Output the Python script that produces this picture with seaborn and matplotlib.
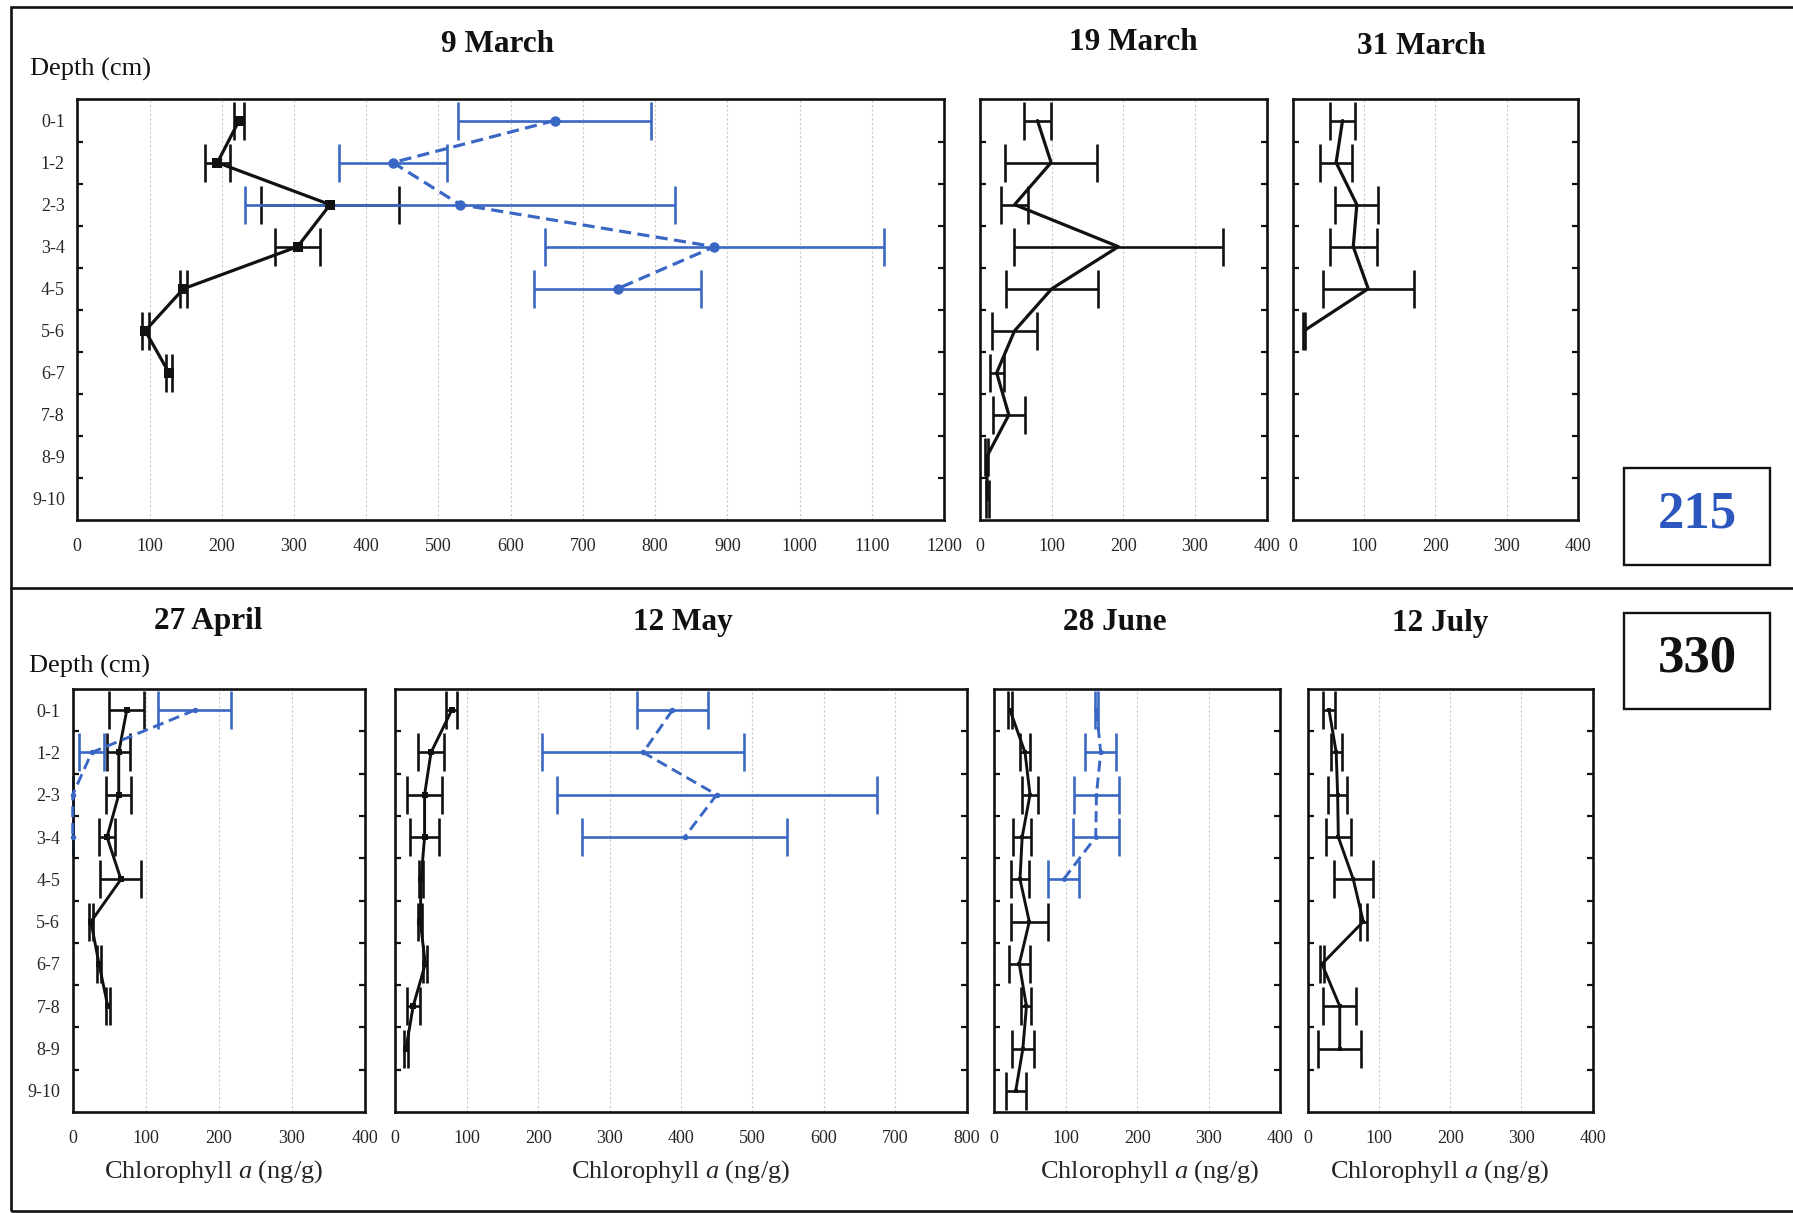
import numpy as np
import pandas as pd
import matplotlib
matplotlib.use("Agg")
import matplotlib.pyplot as plt
import seaborn as sns
from matplotlib.patches import Rectangle
from matplotlib.lines import Line2D
from matplotlib.ticker import FixedLocator

# ---------------- data ----------------
depth_labels = ["0-1", "1-2", "2-3", "3-4", "4-5", "5-6", "6-7", "7-8", "8-9", "9-10"]

mar09_black = [224, 194, 350, 305, 147, 94, 127]
mar09_black_err = [7, 17, 96, 31, 5, 5, 4]
mar09_blue = [661, 437, 530, 882, 748]
mar09_blue_err = [134, 75, 298, 235, 116]

mar19_black = [80, 99, 48, 193, 100, 48, 23, 40, 9, 10]
mar19_black_err = [19, 64, 19, 146, 64, 31, 10, 22, 2, 2]

mar31_black = [70, 61, 90, 85, 106, 16]
mar31_black_err = [18, 22, 30, 33, 64, 1]

apr27_black = [74, 63, 63, 47, 66, 25, 36, 48]
apr27_black_err = [24, 16, 17, 11, 28, 3, 3, 3]
apr27_blue = [167, 26, 0, 0]
apr27_blue_err = [50, 17, 0, 0]

may12_black = [79, 50, 41, 41, 36, 35, 42, 25, 15]
may12_black_err = [8, 18, 25, 20, 3, 3, 3, 9, 3]
may12_blue = [388, 347, 450, 405]
may12_blue_err = [50, 141, 224, 144]

jun28_black = [22, 43, 50, 39, 36, 49, 35, 45, 40, 30]
jun28_black_err = [3, 7, 11, 13, 12, 26, 15, 7, 15, 14]
jun28_blue = [143, 149, 143, 142, 97]
jun28_blue_err = [2, 22, 32, 32, 22]

jul12_black = [30, 40, 42, 43, 64, 78, 20, 45, 45]
jul12_black_err = [8, 8, 13, 18, 27, 5, 3, 23, 30]

titles = ["9 March", "19 March", "31 March", "27 April", "12 May", "28 June", "12 July"]
xmax_values = [1200, 400, 400, 400, 800, 400, 400]
station_labels = ["215", "330"]
xlabel_text = r"Chlorophyll $\mathit{a}$ (ng/g)"
ylabel_text = "Depth (cm)"

# ---------------- style ----------------
sns.set_style("white")
plt.rcParams["font.family"] = ["Liberation Serif", "DejaVu Serif"]
plt.rcParams["mathtext.fontset"] = "custom"
plt.rcParams["mathtext.rm"] = "Liberation Serif"
plt.rcParams["mathtext.it"] = "Liberation Serif:italic"

BLACK = "#111111"
BLUE = "#3a67c4"
W, H = 1793, 1213

fig = plt.figure(figsize=(W / 100, H / 100), dpi=100)
fig.patch.set_facecolor("white")


def px_axes(x0, y0, x1, y1):
    return fig.add_axes([x0 / W, 1 - y1 / H, (x1 - x0) / W, (y1 - y0) / H])


def draw_series(ax, vals, errs, color, dashed, marker, ms, lw):
    depth = np.arange(len(vals))
    df = pd.DataFrame({"chl": vals, "depth": depth})
    ls = (0, (3.8, 2.0)) if dashed else "-"
    sns.lineplot(data=df, x="chl", y="depth", orient="y", sort=False,
                 estimator=None, color=color, linestyle=ls, linewidth=lw,
                 marker=marker, markersize=ms, markeredgewidth=0,
                 ax=ax, clip_on=False, zorder=3)
    ax.errorbar(vals, depth, xerr=errs, fmt="none", ecolor=color,
                elinewidth=1.9, capsize=13.5, capthick=1.9, zorder=2,
                clip_on=False)


def style_axes(ax, xmax, show_ylabels):
    ax.set_xlim(0, xmax)
    ax.set_ylim(9.5, -0.5)
    ax.set_xticks(np.arange(0, xmax + 1, 100))
    ax.set_yticks(np.arange(10))
    ax.set_yticklabels(depth_labels if show_ylabels else [""] * 10)
    ax.yaxis.set_minor_locator(FixedLocator(np.arange(0.5, 9.0, 1.0)))
    ax.tick_params(axis="x", which="major", length=0, pad=13, labelsize=13)
    ax.tick_params(axis="y", which="major", length=0, pad=9, labelsize=13)
    ax.tick_params(axis="y", which="minor", direction="in", length=4,
                   width=1.6, left=True, right=True, color=BLACK)
    ax.grid(axis="x", color="#c8c8c8", linestyle=(0, (2, 2)), linewidth=0.8)
    ax.grid(axis="y", visible=False)
    ax.set_axisbelow(True)
    for s in ax.spines.values():
        s.set_visible(True)
        s.set_linewidth(1.9)
        s.set_color(BLACK)
    ax.set_xlabel("")
    ax.set_ylabel("")


# ---------------- top row ----------------
top_y0, top_y1 = 99.5, 520
ax1 = px_axes(77.3, top_y0, 944, top_y1)
draw_series(ax1, mar09_black, mar09_black_err, BLACK, False, "s", 7.5, 2.3)
draw_series(ax1, mar09_blue, mar09_blue_err, BLUE, True, "o", 7.5, 2.3)
style_axes(ax1, xmax_values[0], True)

ax2 = px_axes(980.2, top_y0, 1266.6, top_y1)
draw_series(ax2, mar19_black, mar19_black_err, BLACK, False, None, 0, 2.3)
style_axes(ax2, xmax_values[1], False)

ax3 = px_axes(1292.6, top_y0, 1578, top_y1)
draw_series(ax3, mar31_black, mar31_black_err, BLACK, False, None, 0, 2.3)
style_axes(ax3, xmax_values[2], False)

# ---------------- bottom row ----------------
bot_y0, bot_y1 = 689, 1112
ax4 = px_axes(72.7, bot_y0, 365, bot_y1)
draw_series(ax4, apr27_black, apr27_black_err, BLACK, False, "s", 5, 2.1)
draw_series(ax4, apr27_blue, apr27_blue_err, BLUE, True, "o", 4, 2.1)
style_axes(ax4, xmax_values[3], True)

ax5 = px_axes(395.3, bot_y0, 966.7, bot_y1)
draw_series(ax5, may12_black, may12_black_err, BLACK, False, "s", 5, 2.1)
draw_series(ax5, may12_blue, may12_blue_err, BLUE, True, "o", 4, 2.1)
style_axes(ax5, xmax_values[4], False)

ax6 = px_axes(994.3, bot_y0, 1280, bot_y1)
draw_series(ax6, jun28_black, jun28_black_err, BLACK, False, "s", 3.5, 2.1)
draw_series(ax6, jun28_blue, jun28_blue_err, BLUE, True, "o", 3.5, 2.1)
style_axes(ax6, xmax_values[5], False)

ax7 = px_axes(1307.7, bot_y0, 1592.7, bot_y1)
draw_series(ax7, jul12_black, jul12_black_err, BLACK, False, "s", 3.5, 2.1)
style_axes(ax7, xmax_values[6], False)

# x labels (bottom row)
for ax, cx in zip([ax4, ax5, ax6, ax7], [214, 681, 1150, 1440]):
    ax.set_xlabel(xlabel_text, fontsize=19)
    bb = ax.get_position()
    ax.xaxis.set_label_coords((cx / W - bb.x0) / bb.width,
                              ((1 - 1172 / H) - bb.y0) / bb.height)
    ax.xaxis.label.set_va("center")

# ---------------- titles & texts ----------------
title_pos = [(498, 44), (1133, 42), (1421, 46), (208, 621), (683, 622),
             (1115, 623), (1440, 623)]
for t, (x, y) in zip(titles, title_pos):
    fig.text(x / W, 1 - y / H, t, ha="center", va="center",
             fontsize=22.5, fontweight="bold", color=BLACK)

fig.text(30 / W, 1 - 69 / H, ylabel_text, ha="left", va="center", fontsize=19, color=BLACK)
fig.text(29 / W, 1 - 666 / H, ylabel_text, ha="left", va="center", fontsize=19, color=BLACK)

# station boxes
for (label, col, y0, y1) in [(station_labels[0], "#2b57bf", 468.3, 565),
                             (station_labels[1], BLACK, 612.7, 709.3)]:
    fig.add_artist(Rectangle((1624 / W, 1 - y1 / H), (1770 - 1624) / W,
                             (y1 - y0) / H, transform=fig.transFigure,
                             fill=False, edgecolor=BLACK, linewidth=1.7))
    fig.text(1697 / W, 1 - ((y0 + y1) / 2 - 2) / H, label, ha="center",
             va="center", fontsize=38, fontweight="bold", color=col)

# outer frame
fig.add_artist(Rectangle((11 / W, 1 - 1211 / H), (1810 - 11) / W,
                         (1211 - 7) / H, transform=fig.transFigure,
                         fill=False, edgecolor=BLACK, linewidth=1.9,
                         clip_on=False))
fig.add_artist(Line2D([11 / W, 1.0], [1 - 588 / H, 1 - 588 / H],
                      transform=fig.transFigure, color=BLACK, linewidth=1.9))

fig.savefig("out.png", dpi=100, facecolor="white")
